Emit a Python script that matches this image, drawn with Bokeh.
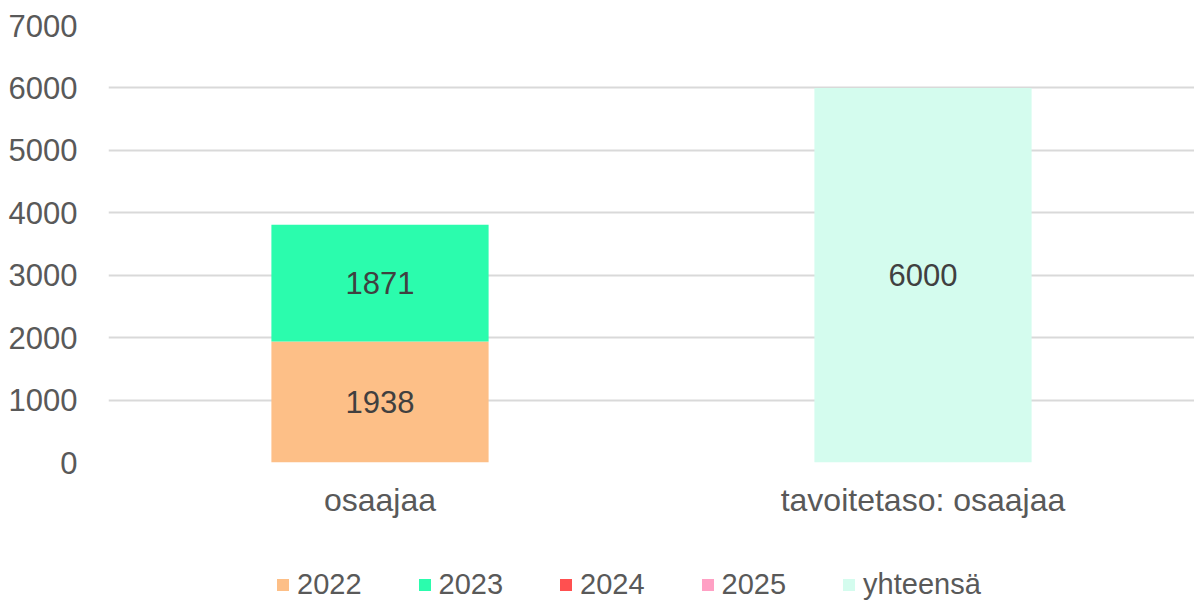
from bokeh.plotting import figure
from bokeh.layouts import column
from bokeh.models import ColumnDataSource, Range1d, FactorRange, Legend, LabelSet, FixedTicker
from bokeh.core.properties import value
from bokeh.embed import file_html
from bokeh.resources import INLINE

categories = ["osaajaa", "tavoitetaso: osaajaa"]
series = ["2022", "2023", "2024", "2025", "yhteensä"]
v2022 = [1938, 0]
v2023 = [1871, 0]
v2024 = [0, 0]
v2025 = [0, 0]
vtotal = [0, 6000]
colors = ["#FDBF87", "#2BFCAD", "#FF5050", "#FFA0C4", "#D4FCEE"]
y_ticks = [0, 1000, 2000, 3000, 4000, 5000, 6000, 7000]

FONT = "Liberation Sans"

data = {"cat": categories, "2022": v2022, "2023": v2023, "2024": v2024,
        "2025": v2025, "yhteensä": vtotal}
src = ColumnDataSource(data)

p = figure(x_range=FactorRange(factors=categories, range_padding=0),
           y_range=Range1d(0, 7000), width=1194, height=530,
           output_backend="svg", toolbar_location=None,
           min_border_left=108, min_border_right=0, min_border_top=25,
           min_border_bottom=68)
p.outline_line_color = None

rs = p.vbar_stack(series, x="cat", width=0.4, source=src, color=colors,
                  line_color=None)

# data labels
lx, ly, lt = [], [], []
for i, c in enumerate(categories):
    base = 0
    for s in series:
        v = data[s][i]
        if v:
            lx.append(c)
            ly.append(base + v / 2)
            lt.append(str(v))
        base += v
lsrc = ColumnDataSource(dict(x=lx, y=ly, t=lt))
p.add_layout(LabelSet(x="x", y="y", text="t", source=lsrc,
                      text_align="center", text_baseline="middle",
                      text_font=value(FONT), text_font_size="31px",
                      text_color="#404040"))

p.yaxis.ticker = FixedTicker(ticks=y_ticks)
p.ygrid.ticker = FixedTicker(ticks=y_ticks)
p.xgrid.grid_line_color = None
p.ygrid.grid_line_color = "#D9D9D9"
p.ygrid.grid_line_width = 2

for ax in (p.xaxis, p.yaxis):
    ax.axis_line_color = None
    ax.major_tick_line_color = None
    ax.minor_tick_line_color = None
    ax.major_label_text_font = FONT
    ax.major_label_text_color = "#595959"
p.yaxis.major_label_text_font_size = "31px"
p.xaxis.major_label_text_font_size = "32px"
p.yaxis.major_label_standoff = 25
p.xaxis.major_label_standoff = 13

# legend strip below the chart
p2 = figure(width=1194, height=71, x_range=Range1d(0, 1), y_range=Range1d(0, 1),
            output_backend="svg", toolbar_location=None, min_border=0)
p2.axis.visible = False
p2.grid.grid_line_color = None
p2.outline_line_color = None
items = []
for s, c in zip(series, colors):
    # zero-height swatch renderer, only used to draw the legend key
    r = p2.vbar(x=[0.5], top=[0], bottom=[0], width=0.0, color=c,
                line_color=None)
    items.append((s, [r]))
legend = Legend(items=items, orientation="horizontal", location=(167, 0),
                label_text_font=FONT, label_text_font_size="29px",
                label_text_color="#595959", glyph_width=15, glyph_height=15,
                label_height=30, label_standoff=7, spacing=55, padding=0,
                margin=0, border_line_color=None, background_fill_alpha=0)
p2.add_layout(legend, "center")

open("out.html", "w").write(file_html(column(p, p2, spacing=0), INLINE))
